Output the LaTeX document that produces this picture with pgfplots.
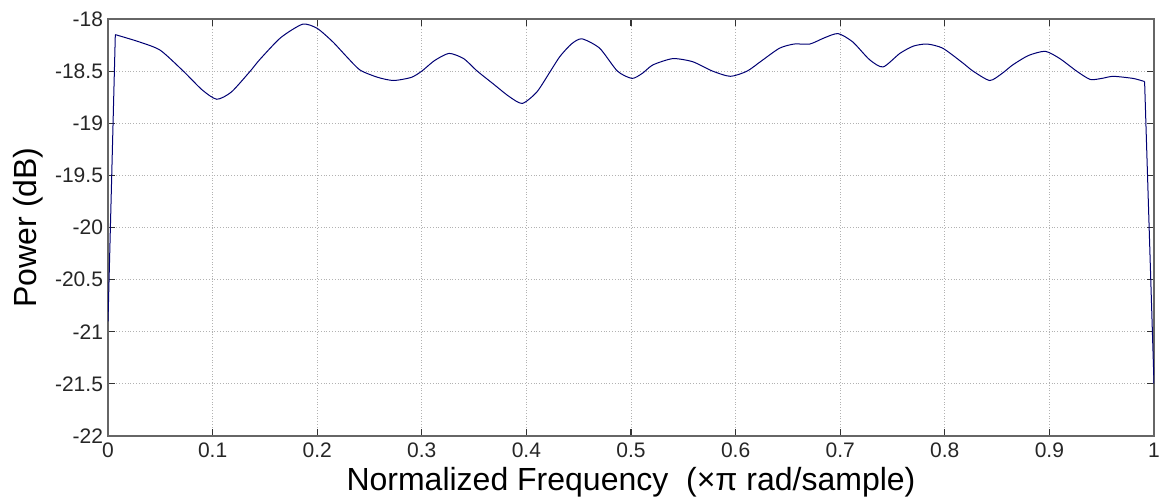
\documentclass[border=0pt]{standalone}
\usepackage{fontspec}
\setmainfont{Liberation Sans}
\usepackage{pgfplots}
\pgfplotsset{compat=1.18}
\begin{document}
\begin{tikzpicture}
\path[use as bounding box] (-54pt,-32.5pt) rectangle (531pt,218pt);
\begin{axis}[
  at={(0,0)}, anchor=south west,
  scale only axis, width=523pt, height=208.5pt,
  xmin=0, xmax=1, ymin=-22, ymax=-18,
  xtick={0,0.1,...,1.0}, ytick={-22,-21.5,...,-18},
  xticklabels={0,0.1,0.2,0.3,0.4,0.5,0.6,0.7,0.8,0.9,1},
  yticklabels={-22,-21.5,-21,-20.5,-20,-19.5,-19,-18.5,-18},
  /pgf/number format/assume math mode=true,
  tick label style={font=\fontsize{10.5pt}{12pt}\selectfont, text=black!85},
  yticklabel style={xshift=1pt},
  grid=major, major grid style={densely dotted, gray!60, line width=0.5pt},
  axis line style={gray!80!black, line width=0.7pt},
  tick style={black!80, line width=0.6pt},
  tick align=inside, major tick length=3.5pt,
  xlabel={Normalized Frequency\ \ (×π rad/sample)},
  ylabel={Power (dB)},
  label style={font=\fontsize{16pt}{18pt}\selectfont},
  xlabel style={at={(axis description cs:0.5,-0.110)}, anchor=center},
  ylabel style={at={(axis description cs:-0.0765,0.5)}, anchor=center},
]
\addplot[color=blue!45!black, line width=0.5pt] coordinates {(0,-20.9) (0.007,-18.15)};
\addplot[color=blue!45!black, line width=0.5pt, smooth, tension=0.4] coordinates {
(0.007,-18.15) (0.03,-18.22) (0.05,-18.30) (0.072,-18.5) (0.09,-18.68) (0.104,-18.77)
(0.118,-18.70) (0.136,-18.5) (0.145,-18.39) (0.165,-18.18) (0.186,-18.05) (0.2,-18.09)
(0.215,-18.22) (0.228,-18.36) (0.241,-18.49) (0.258,-18.56) (0.273,-18.59) (0.29,-18.56)
(0.3,-18.50) (0.312,-18.40) (0.326,-18.33) (0.34,-18.38) (0.353,-18.5) (0.368,-18.62)
(0.383,-18.74) (0.396,-18.81) (0.41,-18.70) (0.423,-18.5) (0.432,-18.36) (0.443,-18.24)
(0.453,-18.19) (0.47,-18.28) (0.487,-18.5) (0.501,-18.57) (0.511,-18.52) (0.521,-18.44)
(0.54,-18.38) (0.559,-18.41) (0.578,-18.5) (0.595,-18.55) (0.611,-18.50) (0.625,-18.40)
(0.642,-18.28) (0.656,-18.24) (0.671,-18.24) (0.685,-18.18) (0.698,-18.14) (0.712,-18.22)
(0.728,-18.39) (0.741,-18.46) (0.757,-18.33) (0.77,-18.26) (0.783,-18.24) (0.798,-18.28)
(0.817,-18.42) (0.827,-18.5) (0.843,-18.59) (0.855,-18.52) (0.865,-18.44) (0.88,-18.35)
(0.896,-18.31) (0.91,-18.38) (0.926,-18.5) (0.939,-18.58) (0.95,-18.57) (0.961,-18.55)
(0.98,-18.57) (0.991,-18.60)
};
\addplot[color=blue!45!black, line width=0.5pt] coordinates {(0.991,-18.60) (1,-21.5)};
\end{axis}
\end{tikzpicture}
\end{document}
